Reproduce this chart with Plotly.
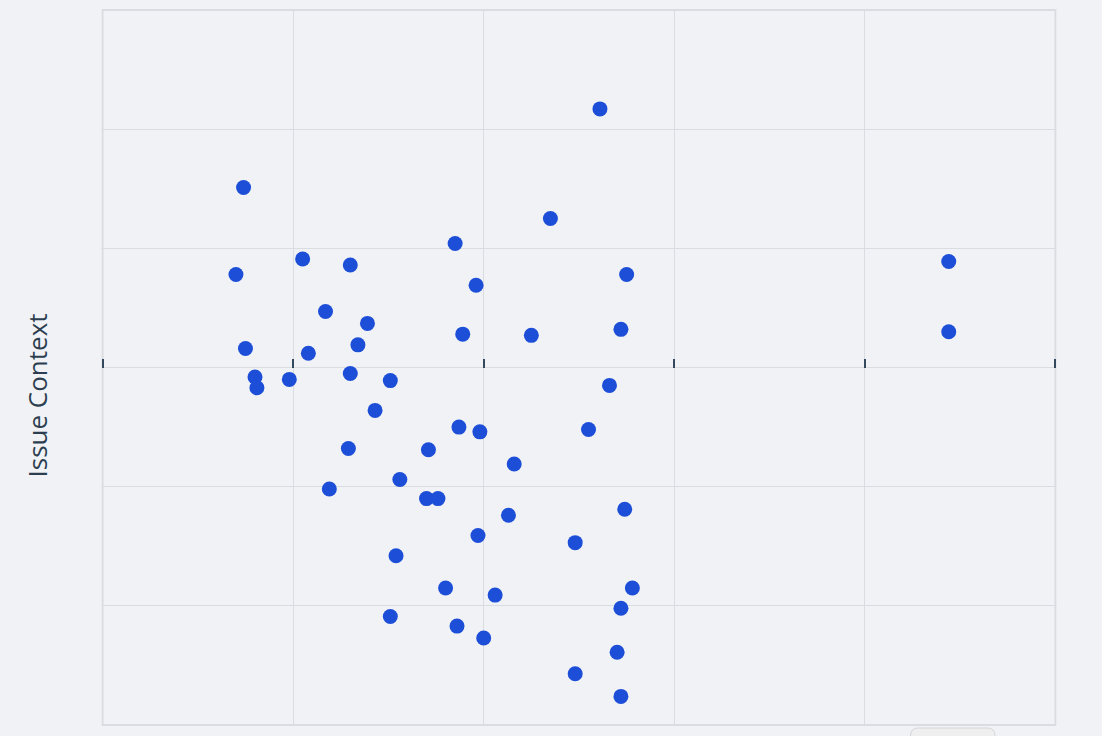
import plotly.graph_objects as go

# 读取自参考图的点位（任意单位：x 0-5，y -3..3）
x_vals = [2.61, 0.74, 2.35, 1.85, 1.05, 1.30, 0.70, 2.75, 1.96, 4.44,
          1.17, 1.39, 1.89, 2.25, 2.72, 4.44, 0.75, 1.34, 1.08, 0.80,
          0.81, 0.98, 1.30, 1.51, 2.66, 1.43, 1.87, 1.98, 2.55, 1.29,
          1.71, 2.16, 1.19, 1.56, 1.70, 1.76, 2.13, 2.74, 1.97, 2.48,
          1.54, 1.80, 2.78, 2.06, 2.72, 1.51, 1.86, 2.00, 2.70, 2.48,
          2.72]
y_vals = [2.17, 1.51, 1.25, 1.04, 0.91, 0.86, 0.78, 0.78, 0.69, 0.89,
          0.47, 0.37, 0.28, 0.27, 0.32, 0.30, 0.16, 0.19, 0.12, -0.08,
          -0.17, -0.10, -0.05, -0.11, -0.15, -0.36, -0.50, -0.54, -0.52, -0.68,
          -0.69, -0.81, -1.02, -0.94, -1.10, -1.10, -1.24, -1.19, -1.41, -1.47,
          -1.58, -1.85, -1.85, -1.91, -2.02, -2.09, -2.17, -2.27, -2.39, -2.57,
          -2.76]
x_ticks = [0, 1, 2, 3, 4, 5]
y_ticks = [-3, -2, -1, 0, 1, 2, 3]
y_title = 'Issue Context'

bg = '#f0f2f5'
grid = '#d9dce0'

fig = go.Figure()
fig.add_trace(go.Scatter(
    x=x_vals, y=y_vals,
    mode='markers',
    marker=dict(size=15, color='#1d4ed8'),
    showlegend=False,
    hovertemplate="%{x:.2f}, %{y:.2f}<extra></extra>"
))

# x 轴两端稍微留白，让两端的刻度也能画出来
pad = 0.05
x0, x1 = x_ticks[0], x_ticks[-1]
fig.update_layout(
    width=1102, height=736,
    margin=dict(l=92.5, r=37.4, t=10, b=11),
    paper_bgcolor=bg,
    plot_bgcolor=bg,
    font=dict(family='Open Sans', color='#2d3e50'),
    xaxis=dict(
        range=[x0 - pad, x1 + pad], tickvals=x_ticks, showticklabels=False,
        showgrid=True, gridcolor=grid, gridwidth=1,
        zeroline=False, showline=False,
        anchor='free', position=0.5,
        ticks='inside', ticklen=9, tickwidth=2, tickcolor='#34495e',
    ),
    yaxis=dict(
        range=[-3, 3], tickvals=y_ticks, showticklabels=False,
        showgrid=True, gridcolor=grid, gridwidth=1,
        zeroline=False, showline=False, ticks='',
    ),
    # y 轴标题（原图中略偏下，用注释放置）
    annotations=[dict(
        text=y_title, textangle=-90, showarrow=False,
        xref='paper', yref='paper', x=-0.0571, y=0.4615,
        xanchor='center', yanchor='middle',
        font=dict(size=26, color='#2d3e50'),
    )],
    shapes=[
        # 绘图区边框
        dict(type='rect', xref='x', yref='paper', x0=x0, y0=0, x1=x1, y1=1,
             line=dict(color=grid, width=2), layer='below'),
        # 盖住两端留白处伸出的网格线
        dict(type='rect', xref='x', yref='paper', x0=x0 - pad, y0=-0.01, x1=x0 - 0.006, y1=1.01,
             fillcolor=bg, line=dict(width=0), layer='above'),
        dict(type='rect', xref='x', yref='paper', x0=x1 + 0.006, y0=-0.01, x1=x1 + pad, y1=1.01,
             fillcolor=bg, line=dict(width=0), layer='above'),
        # 底部被截断的按钮
        dict(type='path', xref='paper', yref='paper',
             path='M 0.841,-0.10 L 0.841,-0.0154 Q 0.841,-0.0042 0.8492,-0.0042 '
                  'L 0.9198,-0.0042 Q 0.928,-0.0042 0.928,-0.0154 L 0.928,-0.10 Z',
             fillcolor='#efefef', line=dict(color='#d4d6da', width=1)),
    ],
)

fig.write_html("out.html", config={'displayModeBar': False},
               post_script="document.body.style.margin='0';")
